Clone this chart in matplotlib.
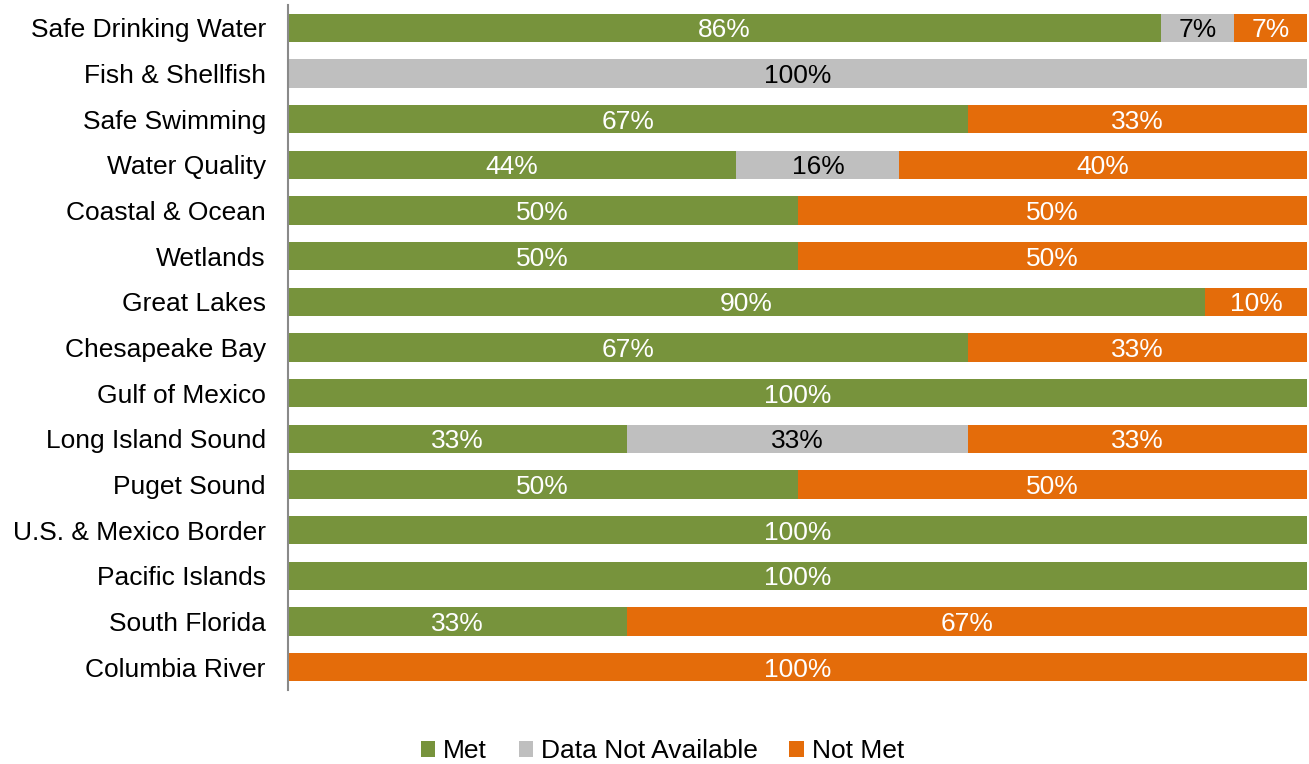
import matplotlib.pyplot as plt
import numpy as np

plt.rcParams['font.family'] = ['Liberation Sans', 'DejaVu Sans']

categories = ['Safe Drinking Water', 'Fish & Shellfish', 'Safe Swimming', 'Water Quality',
              'Coastal & Ocean', 'Wetlands', 'Great Lakes', 'Chesapeake Bay', 'Gulf of Mexico',
              'Long Island Sound', 'Puget Sound', 'U.S. & Mexico Border', 'Pacific Islands',
              'South Florida', 'Columbia River']
met = [85.7, 0, 66.7, 44, 50, 50, 90, 66.7, 100, 33.3, 50, 100, 100, 33.3, 0]
not_available = [7.15, 100, 0, 16, 0, 0, 0, 0, 0, 33.4, 0, 0, 0, 0, 0]
not_met = [7.15, 0, 33.3, 40, 50, 50, 10, 33.3, 0, 33.3, 50, 0, 0, 66.7, 100]

series = [('Met', met, '#77933C', 'white'),
          ('Data Not Available', not_available, '#BFBFBF', 'black'),
          ('Not Met', not_met, '#E46C0A', 'white')]

fig = plt.figure(figsize=(13.09, 7.64), dpi=100)
ax = fig.add_axes([0.220, 0.097, 0.7785, 0.8966])

y = np.arange(len(categories))
left = np.zeros(len(categories))
for name, vals, color, tcolor in series:
    vals = np.array(vals)
    ax.barh(y, vals, left=left, height=0.62, color=color, label=name)
    for i, v in enumerate(vals):
        if v > 0:
            ax.text(left[i] + v / 2, y[i], '%d%%' % round(v), ha='center',
                    va='center_baseline', color=tcolor, fontsize=19)
    left += vals

ax.set_xlim(0, 100)
ax.set_ylim(len(categories) - 0.5, -0.5)
ax.set_yticks(y)
ax.set_yticklabels(categories, fontsize=19, va='center_baseline')
ax.tick_params(axis='y', length=0, pad=16)
ax.set_xticks([])
for s in ['top', 'right', 'bottom']:
    ax.spines[s].set_visible(False)
ax.spines['left'].set_color('#898989')
ax.spines['left'].set_linewidth(1.5)

fig.legend(loc='lower center', bbox_to_anchor=(0.506, -0.03), ncol=3, frameon=False,
           fontsize=19, handlelength=0.55, handleheight=0.55, handletextpad=0.3,
           columnspacing=1.2)

fig.savefig('out.png', dpi=100)
